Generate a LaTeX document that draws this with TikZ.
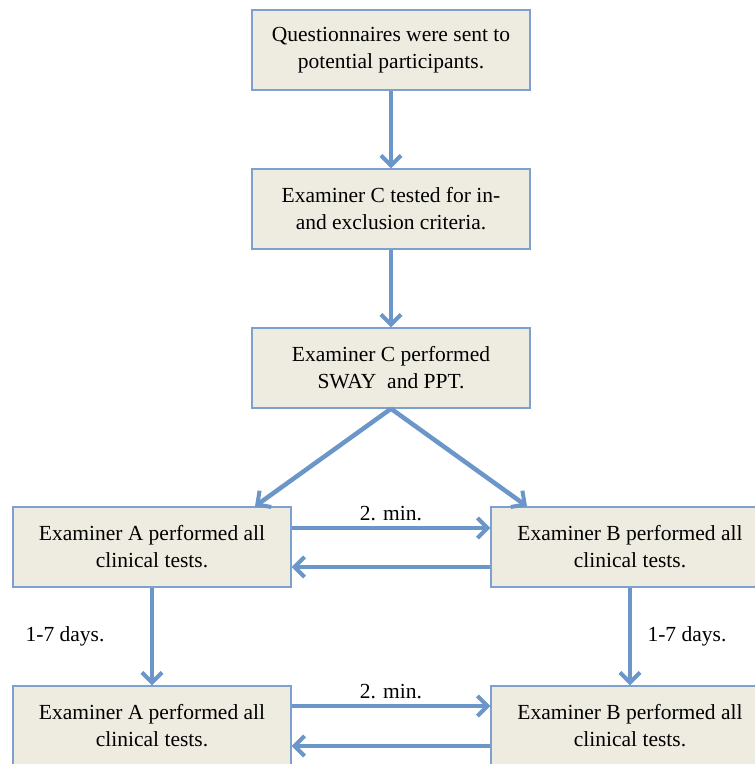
\documentclass[tikz,border=0pt]{standalone}
\usepackage{fontspec}
\setmainfont{Liberation Serif}
\usetikzlibrary{arrows.meta,positioning}
\definecolor{boxfill}{HTML}{EEECE1}
\definecolor{boxline}{HTML}{7DA0CE}
\definecolor{arrowblue}{HTML}{6A96CA}

\begin{document}
\begin{tikzpicture}[x=1pt, y=-1pt, every node/.style={font=\fontsize{21.5}{27}\selectfont}]
    \tikzset{StepBox/.style = {draw=boxline, line width=1.4pt, fill=boxfill,
        minimum width=278pt, minimum height=80pt, align=center, inner sep=0pt},
      FlowEdge/.style = {draw=arrowblue, line width=4.5pt,
        -{Straight Barb[length=10pt, width=20pt, line width=4pt]}}}
    \useasboundingbox (0,0) rectangle (755,764);
    \node[StepBox] (Q) at (391,50) {Questionnaires were sent to\\potential participants.};
    \node[StepBox] (C1) at (391,209) {Examiner C tested for in-\\and exclusion criteria.};
    \node[StepBox] (C2) at (391,368) {Examiner C performed\\SWAY\ \ and PPT.};
    \node[StepBox] (A1) at (152,547) {Examiner A performed all\\clinical tests.};
    \node[StepBox] (B1) at (630,547) {Examiner B\ performed all\\clinical tests.};
    \node[StepBox] (A2) at (152,726) {Examiner\ A performed all\\clinical tests.};
    \node[StepBox] (B2) at (630,726) {Examiner B performed all\\clinical tests.};
    \draw[FlowEdge] (Q) -- (C1);
    \draw[FlowEdge] (C1) -- (C2);
    \draw[FlowEdge] (C2.south) -- ([xshift=103pt]A1.north);
    \draw[FlowEdge] (C2.south) -- ([xshift=-103pt]B1.north);
    \draw[FlowEdge] ([yshift=19pt]A1.east) -- node[above=2pt] {2. min.} ([yshift=19pt]B1.west);
    \draw[FlowEdge] ([yshift=-20pt]B1.west) -- ([yshift=-20pt]A1.east);
    \draw[FlowEdge] (A1) -- node[left=42pt] {1-7 days.} (A2);
    \draw[FlowEdge] (B1) -- node[right=12pt] {1-7 days.} (B2);
    \draw[FlowEdge] ([yshift=20pt]A2.east) -- node[above=2pt] {2. min.} ([yshift=20pt]B2.west);
    \draw[FlowEdge] ([yshift=-20pt]B2.west) -- ([yshift=-20pt]A2.east);
  \end{tikzpicture}
\end{document}
